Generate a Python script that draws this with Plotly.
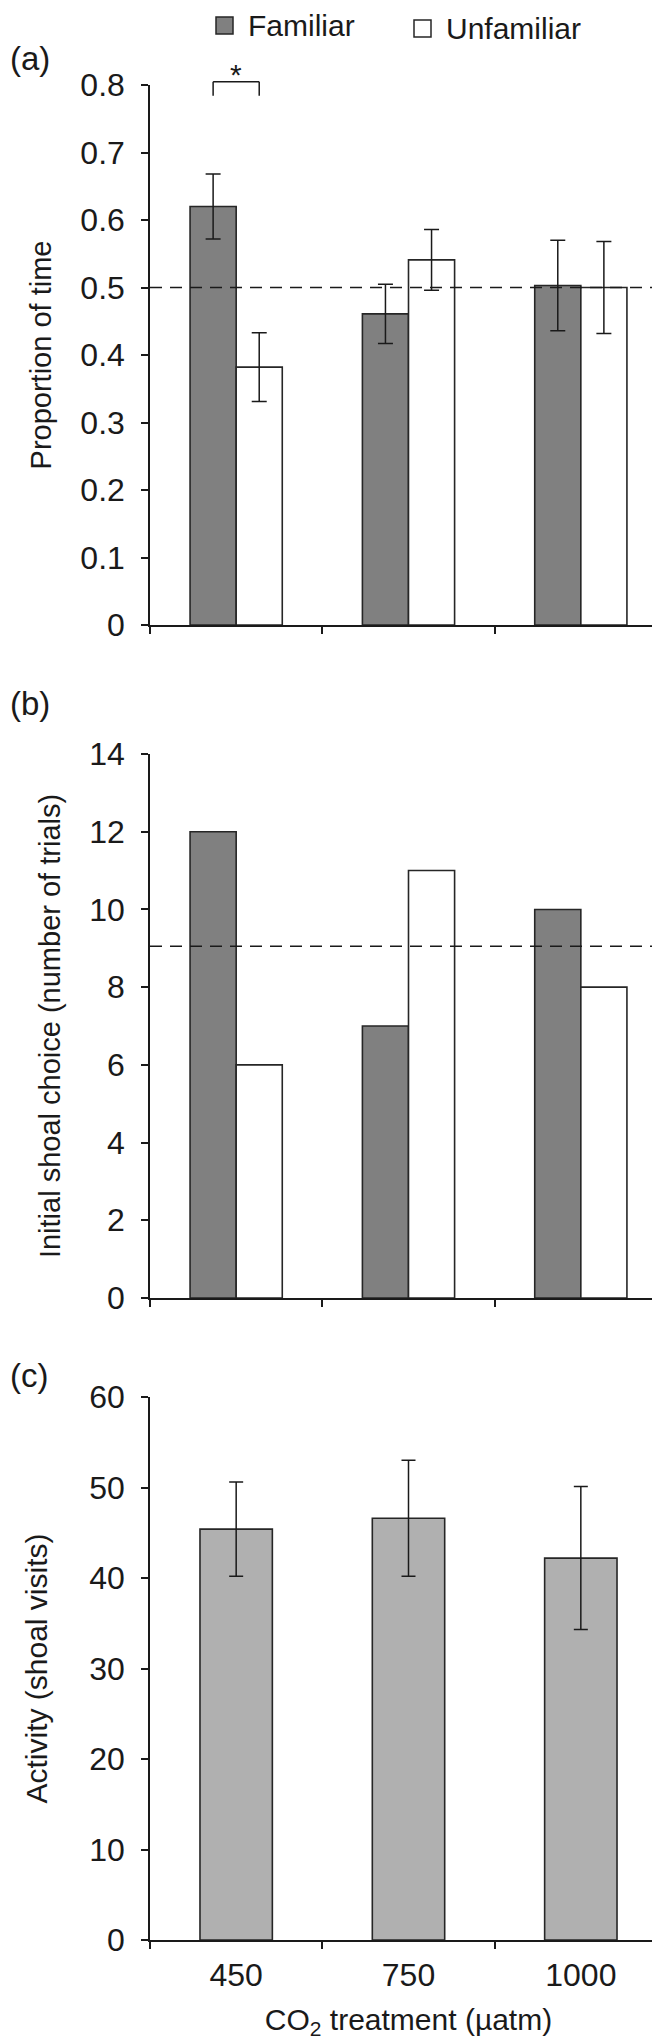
import plotly.graph_objects as go
from plotly.subplots import make_subplots

# CO2 treatment levels (µatm)
co2 = ["450", "750", "1000"]

# (a) proportion of time near each shoal
time_familiar = [0.62, 0.461, 0.503]
time_familiar_err = [0.048, 0.044, 0.067]
time_unfamiliar = [0.382, 0.541, 0.5]
time_unfamiliar_err = [0.051, 0.045, 0.068]
time_chance = 0.5

# (b) initial shoal choice (number of trials)
choice_familiar = [12, 7, 10]
choice_unfamiliar = [6, 11, 8]
choice_chance = 9.05

# (c) activity (shoal visits)
activity = [45.4, 46.6, 42.2]
activity_err = [5.2, 6.4, 7.9]

FONT = "Liberation Sans, Arial, sans-serif"
INK = "#1a1a1a"
DARK = "#808080"
LIGHT = "#b0b0b0"
BARGAP = 0.465
W, H = 660, 2043
ML = 142
PLOT_W = W - ML - 1


def px_x(px):
    # pixel column -> paper x
    return (px - ML) / PLOT_W


def px_y(py):
    # pixel row -> paper y (no top/bottom margin)
    return 1 - py / H


fig = make_subplots(rows=3, cols=1)

err_style = dict(type="data", color=INK, thickness=1.5, width=7.5)
outline = dict(color="#262626", width=1.6)

# Panel (a)
fig.add_trace(go.Bar(x=co2, y=time_familiar, name="Familiar",
                     marker=dict(color=DARK, line=outline),
                     error_y=dict(array=time_familiar_err, **err_style)), row=1, col=1)
fig.add_trace(go.Bar(x=co2, y=time_unfamiliar, name="Unfamiliar",
                     marker=dict(color="white", line=outline),
                     error_y=dict(array=time_unfamiliar_err, **err_style)), row=1, col=1)

# Panel (b)
fig.add_trace(go.Bar(x=co2, y=choice_familiar, name="Familiar",
                     marker=dict(color=DARK, line=outline)), row=2, col=1)
fig.add_trace(go.Bar(x=co2, y=choice_unfamiliar, name="Unfamiliar",
                     marker=dict(color="white", line=outline)), row=2, col=1)

# Panel (c)
fig.add_trace(go.Bar(x=co2, y=activity, name="Activity", width=0.42,
                     marker=dict(color=LIGHT, line=outline),
                     error_y=dict(array=activity_err, **dict(err_style, width=7))),
              row=3, col=1)

# chance level lines
dash = dict(color=INK, width=1.5, dash="12px,8px")
fig.add_shape(type="line", xref="x domain", yref="y", x0=0, x1=1,
              y0=time_chance, y1=time_chance, line=dash, layer="above")
fig.add_shape(type="line", xref="x2 domain", yref="y2", x0=0, x1=1,
              y0=choice_chance, y1=choice_chance, line=dash, layer="above")

# significance bracket over the 450 pair (spans the two bar centres)
half = (1 - BARGAP) / 4
bl, br = -half, half
brk = dict(color=INK, width=1.5)
fig.add_shape(type="line", xref="x", yref="y domain", x0=bl, x1=br, y0=1.006, y1=1.006, line=brk)
fig.add_shape(type="line", xref="x", yref="y domain", x0=bl, x1=bl, y0=1.006, y1=0.98, line=brk)
fig.add_shape(type="line", xref="x", yref="y domain", x0=br, x1=br, y0=1.006, y1=0.98, line=brk)
fig.add_annotation(x=0, xref="x", y=1.02, yref="y domain", text="*", showarrow=False,
                   yanchor="middle", font=dict(family=FONT, size=30, color=INK))

# legend drawn as keys + labels across the top
for fill, x0, y0, label, tx, ty in [(DARK, 208, 9, "Familiar", 238, 18),
                                     ("white", 406, 12, "Unfamiliar", 436, 20)]:
    fig.add_shape(type="rect", xref="paper", yref="paper",
                  x0=px_x(x0), x1=px_x(x0 + 17), y0=px_y(y0), y1=px_y(y0 + 17),
                  fillcolor=fill, line=dict(color="#262626", width=1.5))
    fig.add_annotation(x=px_x(tx), xref="paper", y=px_y(ty), yref="paper", text=label,
                       showarrow=False, xanchor="left", yanchor="middle",
                       font=dict(family=FONT, size=30, color=INK))

# panel letters
for letter, py in [("(a)", 51), ("(b)", 695), ("(c)", 1367)]:
    fig.add_annotation(x=px_x(0), xref="paper", y=px_y(py), yref="paper", text=letter,
                       showarrow=False, xanchor="left", yanchor="middle",
                       font=dict(family=FONT, size=33, color=INK))

axis_common = dict(
    showline=True, linecolor=INK, linewidth=1.5,
    ticks="outside", ticklen=7, tickwidth=1.5, tickcolor=INK,
    showgrid=False, zeroline=False, automargin=False,
    tickfont=dict(family=FONT, size=32, color=INK),
)

# plot areas (pixel rows of top / bottom of each y axis)
panels = [(77, 617), (746, 1290), (1389, 1932)]
for i, (top, bottom) in enumerate(panels, start=1):
    sfx = "" if i == 1 else str(i)
    fig.layout["xaxis" + sfx].update(
        **axis_common, type="category", tickson="boundaries",
        range=[-0.5, 2.5], showticklabels=(i == 3), domain=[0, 1],
        ticklabelstandoff=6,
    )
    fig.layout["yaxis" + sfx].update(**axis_common, domain=[px_y(bottom), px_y(top)],
                                     ticklabelstandoff=10)

fig.update_yaxes(range=[0, 0.8], dtick=0.1, row=1, col=1,
                 title=dict(text="Proportion of time", standoff=20,
                            font=dict(family=FONT, size=29, color=INK)))
fig.update_yaxes(range=[0, 14], dtick=2, row=2, col=1,
                 title=dict(text="Initial shoal choice (number of trials)", standoff=20,
                            font=dict(family=FONT, size=29, color=INK)))
fig.update_yaxes(range=[0, 60], dtick=10, row=3, col=1,
                 title=dict(text="Activity (shoal visits)", standoff=33,
                            font=dict(family=FONT, size=30, color=INK)))
fig.update_xaxes(row=3, col=1,
                 title=dict(text="CO<sub>2</sub> treatment (µatm)", standoff=17,
                            font=dict(family=FONT, size=30, color=INK)))

fig.update_layout(
    width=W, height=H,
    margin=dict(l=ML, r=1, t=0, b=0),
    paper_bgcolor="white", plot_bgcolor="white",
    barmode="group", bargap=BARGAP, bargroupgap=0,
    font=dict(family=FONT, color=INK),
    showlegend=False,
)

fig.write_html("out.html")
